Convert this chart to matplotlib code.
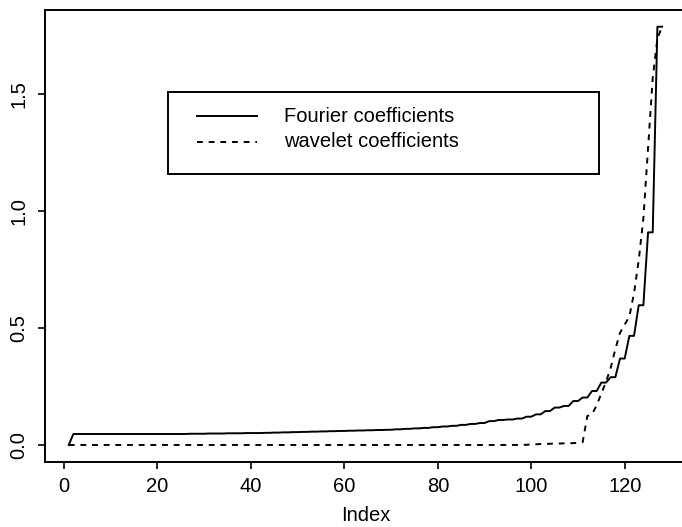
import numpy as np
import matplotlib.pyplot as plt
from matplotlib.patches import Rectangle
from matplotlib.lines import Line2D

plt.rcParams['font.family'] = ['Liberation Sans', 'DejaVu Sans']

# sorted absolute coefficients, index 1..128
fourier = [
    0.000,
    0.047, 0.047, 0.047, 0.047, 0.047, 0.047, 0.047, 0.047, 0.047, 0.047,
    0.047, 0.047, 0.047, 0.047, 0.047, 0.047, 0.047, 0.047, 0.047, 0.047,
    0.047, 0.047, 0.047, 0.047, 0.047,
    0.048, 0.048, 0.048, 0.048, 0.049, 0.049, 0.049, 0.049, 0.050, 0.050,
    0.050, 0.050, 0.051, 0.051, 0.051, 0.051, 0.052, 0.052, 0.053, 0.053,
    0.054, 0.054, 0.055, 0.055, 0.056, 0.056, 0.057, 0.057, 0.058, 0.058,
    0.059, 0.059, 0.060, 0.060, 0.061, 0.061, 0.062, 0.062, 0.063, 0.063,
    0.064, 0.064, 0.065, 0.065, 0.067, 0.067, 0.069, 0.069, 0.071, 0.071,
    0.073, 0.073, 0.076, 0.076, 0.079, 0.079, 0.082, 0.082, 0.086, 0.086,
    0.090, 0.090, 0.094, 0.094, 0.102, 0.102, 0.107, 0.107, 0.109, 0.109,
    0.113, 0.113, 0.121, 0.121, 0.131, 0.131, 0.145, 0.145, 0.160, 0.160,
    0.167, 0.167, 0.188, 0.188, 0.203, 0.203, 0.231, 0.231, 0.267, 0.267,
    0.290, 0.290, 0.370, 0.370, 0.467, 0.467, 0.598, 0.598, 0.910, 0.910,
    1.790, 1.790,
]

wavelet = [0.0] * 98 + [
    0.001, 0.002, 0.003, 0.004, 0.005, 0.005, 0.006, 0.006, 0.007, 0.007,
    0.008, 0.009, 0.012,
    0.124, 0.131, 0.170, 0.220, 0.270, 0.330, 0.410, 0.480, 0.515, 0.550,
    0.650, 0.790, 0.970, 1.270, 1.570, 1.740, 1.790,
]

index = np.arange(1, len(fourier) + 1)

W, H = 682, 527
FS = 14.5
fig = plt.figure(figsize=(W / 100, H / 100), dpi=100)
ax = fig.add_axes([45 / W, 1 - 461.7 / H, 640.8 / W, 451.7 / H])

ax.plot(index, fourier, color='black', lw=1.4, linestyle='-')
ax.plot(index, wavelet, color='black', lw=1.4, linestyle=(0, (3, 3)))

# R style axis ranges (4% extension)
n = len(fourier)
ymax = max(max(fourier), max(wavelet))
ax.set_xlim(1 - 0.04 * (n - 1), n + 0.04 * (n - 1))
ax.set_ylim(-0.04 * ymax, ymax * 1.04)

ax.set_xticks([0, 20, 40, 60, 80, 100, 120])
ax.set_yticks([0.0, 0.5, 1.0, 1.5])
ax.set_yticklabels(['0.0', '0.5', '1.0', '1.5'], rotation=90, va='center')
ax.tick_params(axis='both', direction='out', length=5, width=1.2,
               labelsize=FS, color='black')
ax.tick_params(axis='x', pad=6)
ax.tick_params(axis='y', pad=7)
for s in ax.spines.values():
    s.set_linewidth(1.4)
# the right side of the box falls outside the picture
ax.spines['right'].set_visible(False)

ax.set_xlabel('Index', fontsize=FS, labelpad=7)

# legend box drawn the way R does it
def fx(px):
    return px / W

def fy(py):
    return 1 - py / H

fig.add_artist(Rectangle((fx(168.3), fy(174)), fx(599.3) - fx(168.3),
                         fy(91.7) - fy(174), transform=fig.transFigure,
                         fill=False, edgecolor='black', lw=1.4))
fig.add_artist(Line2D([fx(196.7), fx(256.7)], [fy(116), fy(116)],
                      transform=fig.transFigure, color='black', lw=1.4))
fig.add_artist(Line2D([fx(196.7), fx(256.7)], [fy(141.7), fy(141.7)],
                      transform=fig.transFigure, color='black', lw=1.4,
                      linestyle=(0, (3, 3))))
fig.text(fx(284), fy(116), 'Fourier coefficients', fontsize=FS,
         va='center', ha='left')
fig.text(fx(284), fy(141.7), 'wavelet coefficients', fontsize=FS,
         va='center', ha='left')

fig.savefig('out.png', dpi=100)
